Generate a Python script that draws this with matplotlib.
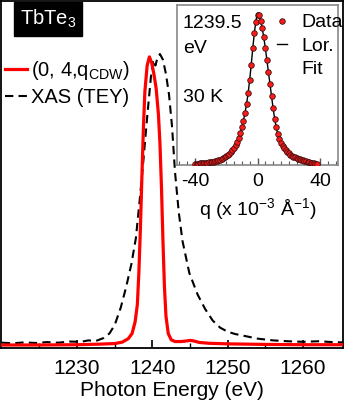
#TbTe3 resonant scattering vs XAS, with the q-scan at 1239.5 eV as inset

import matplotlib
matplotlib.use("Agg")
import matplotlib.pyplot as plt
from matplotlib.lines import Line2D
import numpy as np

plt.rcParams['font.family'] = 'Liberation Sans'
plt.rcParams['mathtext.default'] = 'regular'

#red curve, (0,4,qCDW) peak intensity vs photon energy (normalized)
cdw_energy = [1220, 1225, 1230, 1233, 1235, 1236, 1236.8, 1237.3, 1237.7, 1238.0, 1238.2, 1238.4,
              1238.6, 1238.8, 1239.0, 1239.3, 1239.6, 1239.9, 1240.2, 1240.5, 1240.8, 1241.0,
              1241.2, 1241.4, 1241.6, 1241.8, 1242.1, 1242.5, 1243.0, 1243.8, 1244.5, 1245.0,
              1245.5, 1246.2, 1247.5, 1250, 1255, 1260, 1265.3]
cdw_int = [0.0, 0.0, 0.001, 0.003, 0.005, 0.010, 0.022, 0.040, 0.08, 0.14, 0.25, 0.40,
           0.58, 0.75, 0.88, 0.97, 1.0, 0.98, 0.94, 0.89, 0.80, 0.70,
           0.55, 0.36, 0.20, 0.10, 0.04, 0.018, 0.012, 0.012, 0.014, 0.016,
           0.014, 0.009, 0.006, 0.004, 0.002, 0.001, 0.001]

#black dashed curve, XAS total electron yield (normalized)
xas_energy = [1220, 1221.5, 1223, 1224.5, 1226, 1227.5, 1229, 1230.5, 1231.5, 1232.5, 1233.5,
              1234.3, 1235, 1235.8, 1236.5, 1237.2, 1237.8, 1238.3, 1238.8, 1239.3, 1239.8,
              1240.1, 1240.4, 1240.7, 1241.0, 1241.4, 1241.8, 1242.2, 1242.6, 1243.0, 1243.5,
              1244.0, 1244.9, 1246.0, 1247.0, 1248.0, 1249.0, 1250.0, 1251.0, 1252.5, 1254,
              1256, 1258, 1260, 1262, 1264, 1265.3]
xas_int = [0.008, 0.006, 0.009, 0.007, 0.010, 0.008, 0.012, 0.011, 0.016, 0.014, 0.024,
           0.040, 0.07, 0.13, 0.20, 0.28, 0.37, 0.50, 0.64, 0.79, 0.93,
           0.99, 0.97, 1.00, 1.01, 0.99, 0.94, 0.87, 0.76, 0.60, 0.46,
           0.36, 0.25, 0.175, 0.125, 0.085, 0.06, 0.046, 0.038, 0.03, 0.022,
           0.016, 0.013, 0.011, 0.013, 0.010, 0.009]

#inset, q scan through the CDW peak (x 10^-3 1/A)
q_vals = list(range(-40, 39))
q_int = [0.004, 0.005, 0.006, 0.007, 0.008, 0.009, 0.010, 0.011, 0.012, 0.014,
         0.015, 0.017, 0.019, 0.021, 0.024, 0.027, 0.031, 0.036, 0.041, 0.047,
         0.054, 0.062, 0.071, 0.082, 0.095, 0.110, 0.128, 0.150, 0.176, 0.207,
         0.245, 0.290, 0.340, 0.400, 0.470, 0.560, 0.660, 0.770, 0.870, 0.940,
         0.990, 0.990, 0.950, 0.900, 0.840, 0.770, 0.690, 0.610, 0.530, 0.450,
         0.370, 0.300, 0.245, 0.200, 0.168, 0.142, 0.122, 0.106, 0.093, 0.082,
         0.073, 0.066, 0.059, 0.053, 0.048, 0.043, 0.039, 0.035, 0.031, 0.027,
         0.024, 0.021, 0.018, 0.015, 0.012, 0.009, 0.007, 0.005, 0.004]
#lorentzian fit evaluated on the same grid
q_fit = [0.004, 0.005, 0.006, 0.007, 0.008, 0.009, 0.010, 0.011, 0.012, 0.014,
         0.015, 0.017, 0.019, 0.021, 0.024, 0.027, 0.031, 0.036, 0.041, 0.047,
         0.054, 0.062, 0.071, 0.082, 0.095, 0.110, 0.128, 0.150, 0.176, 0.207,
         0.245, 0.290, 0.340, 0.400, 0.470, 0.560, 0.660, 0.770, 0.870, 0.950,
         1.000, 0.990, 0.950, 0.900, 0.840, 0.770, 0.690, 0.610, 0.530, 0.450,
         0.370, 0.300, 0.245, 0.200, 0.168, 0.142, 0.122, 0.106, 0.093, 0.082,
         0.073, 0.066, 0.059, 0.053, 0.048, 0.043, 0.039, 0.035, 0.031, 0.027,
         0.024, 0.021, 0.018, 0.015, 0.012, 0.009, 0.007, 0.005, 0.004]

fig = plt.figure(figsize=(3.46, 4.07), dpi=100)

#main panel
ax = fig.add_axes([1/346, 1 - 348/407, 342/346, 347/407])
ax.plot(xas_energy, xas_int, color='black', lw=1.5, ls=(0, (4, 2.5)), label='XAS (TEY)')
ax.plot(cdw_energy, cdw_int, color='#ff0000', lw=2.3, solid_joinstyle='round',
        label='(0, 4,q$_{CDW}$)', zorder=3)

ax.set_xlim(1219.9, 1265.3)
ax.set_ylim(-0.0104, 1.194)
ax.set_xticks([1230, 1240, 1250, 1260])
ax.set_xticks(np.arange(1225, 1265, 5), minor=True)
ax.set_yticks([])
ax.tick_params(axis='x', which='major', direction='in', length=6, width=1.2, labelsize=15, pad=8)
ax.tick_params(axis='x', which='minor', direction='in', length=3.5, width=1.0)
for s in ax.spines.values():
    s.set_linewidth(1.3)
ax.set_xlabel('Photon Energy (eV)', fontsize=15, labelpad=2)

#legend order: red first, then dashed
handles, labels = ax.get_legend_handles_labels()
ax.legend(handles[::-1], labels[::-1], loc='upper left', bbox_to_anchor=(0.0117, 0.834),
          frameon=False, fontsize=14.5, handlelength=1.1, handletextpad=0.2,
          labelspacing=0.3, borderpad=0, borderaxespad=0)

ax.text(0.138, 0.948, 'TbTe$_3$', transform=ax.transAxes, color='white', fontsize=14.5,
        ha='center', va='center',
        bbox=dict(boxstyle='square,pad=0.3', facecolor='black', edgecolor='black'))

#inset
ax_in = fig.add_axes([177/346, 1 - 165/407, 161/346, 160/407])
ax_in.plot(q_vals, q_fit, color='black', lw=1.0, label='Lor.', zorder=2)
ax_in.plot(q_vals, q_int, 'o', color='#ff1a1a', mec='#3a1010', mew=0.6, ms=4.0,
           label='Data', zorder=3)
ax_in.set_xlim(-51.5, 51.5)
ax_in.set_ylim(-0.003, 1.053)
ax_in.set_xticks([-40, 0, 40])
ax_in.set_xticklabels(['-40', '0', '40'])
ax_in.set_xticks(np.arange(-50, 55, 5), minor=True)
ax_in.set_yticks([])
ax_in.tick_params(axis='x', which='major', direction='in', length=5, width=1.0,
                  color='#555555', labelsize=14, pad=5.5)
ax_in.tick_params(axis='x', which='minor', direction='in', length=3, width=0.8, color='#555555')
for s in ax_in.spines.values():
    s.set_color('#888888')
    s.set_linewidth(1.2)
ax_in.set_xlabel('q (x 10$^{-3}$ Å$^{-1}$)', fontsize=14, labelpad=4.5)

#"Fit" goes on its own line under "Lor." with no key
h_in, l_in = ax_in.get_legend_handles_labels()
h_in = h_in[::-1] + [Line2D([], [], color='none')]
l_in = l_in[::-1] + ['Fit']
ax_in.legend(h_in, l_in, loc='upper left', bbox_to_anchor=(0.62, 0.945),
             frameon=False, fontsize=14, handlelength=0.5, handletextpad=0.75,
             labelspacing=0.3, borderpad=0, borderaxespad=0)

ax_in.text(0.037, 0.856, '1239.5', transform=ax_in.transAxes, fontsize=14, ha='left', va='baseline')
ax_in.text(0.037, 0.70, 'eV', transform=ax_in.transAxes, fontsize=14, ha='left', va='baseline')
ax_in.text(0.037, 0.394, '30 K', transform=ax_in.transAxes, fontsize=14, ha='left', va='baseline')

fig.savefig('out.png', dpi=100)
